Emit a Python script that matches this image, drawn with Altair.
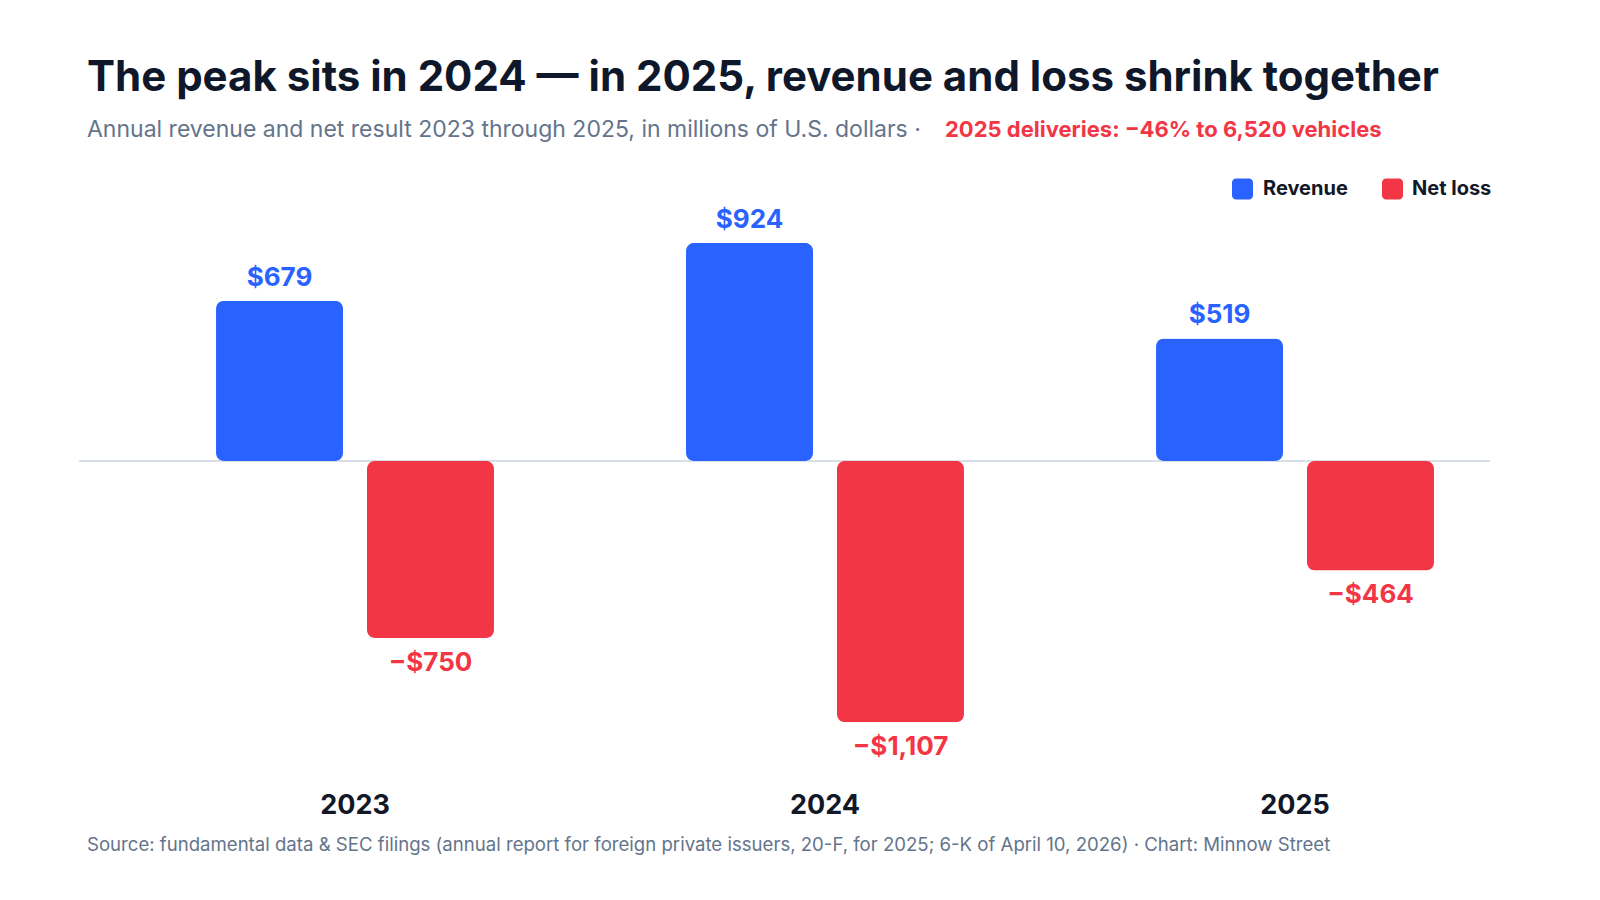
import pandas as pd
import altair as alt

years = ["2023", "2024", "2025"]
revenue = [679, 924, 519]
net_loss = [-750, -1107, -464]

BLUE = "#2962FF"
RED = "#F23645"
FONT = "Inter"

rows = []
for yr, rev, loss in zip(years, revenue, net_loss):
    rows.append({"year": yr, "series": "Revenue", "value": rev, "label": f"${rev:,}"})
    rows.append({"year": yr, "series": "Net loss", "value": loss, "label": f"\u2212${abs(loss):,}"})
df = pd.DataFrame(rows)

x = alt.X("year:N", title=None, scale=alt.Scale(paddingInner=0, paddingOuter=0),
          axis=alt.Axis(labelAngle=0, labelFontSize=27, labelFontWeight="bold", labelColor="#111827",
                        labelFont=FONT, ticks=False, domain=False, labelPadding=12))
xo = alt.XOffset("series:N", sort=["Revenue", "Net loss"],
                 scale=alt.Scale(paddingInner=0.159, paddingOuter=0.636))
y = alt.Y("value:Q", scale=alt.Scale(domain=[-1352, 1233], nice=False), axis=None)
color = alt.Color("series:N", scale=alt.Scale(domain=["Revenue", "Net loss"], range=[BLUE, RED]), legend=None)

base = alt.Chart(df).encode(x=x, xOffset=xo, y=y, color=color)

bars = base.mark_bar(cornerRadius=8)

rev_labels = base.transform_filter("datum.value > 0").mark_text(
    baseline="bottom", dy=-10, fontSize=26, fontWeight="bold", font=FONT).encode(text="label:N")
loss_labels = base.transform_filter("datum.value < 0").mark_text(
    baseline="top", dy=12, fontSize=26, fontWeight="bold", font=FONT).encode(text="label:N")

zero = alt.Chart(pd.DataFrame({"v": [0]})).mark_rule(color="#cbd5e1", strokeWidth=1.5).encode(
    y=alt.Y("v:Q", scale=alt.Scale(domain=[-1352, 1233], nice=False), axis=None),
    x=alt.value(-41), x2=alt.value(1370))

def txt(s, xp, yp, size, color, weight="normal"):
    return alt.Chart(pd.DataFrame({"t": [s]})).mark_text(
        align="left", baseline="middle", fontSize=size, fontWeight=weight, color=color, font=FONT
    ).encode(text="t:N", x=alt.value(xp), y=alt.value(yp))

def swatch(xp, yp, c):
    return alt.Chart(pd.DataFrame({"t": [0]})).mark_rect(cornerRadius=4, color=c).encode(
        x=alt.value(xp), x2=alt.value(xp + 21), y=alt.value(yp - 10.5), y2=alt.value(yp + 10.5))

title = txt("The peak sits in 2024 \u2014 in 2025, revenue and loss shrink together", -33, -92, 42, "#0f172a", "bold")
sub1 = txt("Annual revenue and net result 2023 through 2025, in millions of U.S. dollars \u00b7", -33, -40, 23, "#64748b")
sub2 = txt("2025 deliveries: \u221246% to 6,520 vehicles", 825, -40, 22, RED, "bold")
foot = txt("Source: fundamental data & SEC filings (annual report for foreign private issuers, 20-F, for 2025; 6-K of April 10, 2026) \u00b7 Chart: Minnow Street",
           -33, 675, 18.6, "#64748b")
leg = [swatch(1112, 19, BLUE), txt("Revenue", 1143, 19, 20, "#111827", "bold"),
       swatch(1262, 19, RED), txt("Net loss", 1292, 19, 20, "#111827", "bold")]

chart = alt.layer(zero, bars, rev_labels, loss_labels, title, sub1, sub2, foot, *leg).properties(
    width=1410, height=610,
    autosize=alt.AutoSizeParams(type="none"),
    padding={"left": 112, "top": 162, "right": 20, "bottom": 80},
    background="white",
).configure_view(strokeWidth=0)

chart.save("out.html", embed_options={"renderer": "svg", "actions": False})
